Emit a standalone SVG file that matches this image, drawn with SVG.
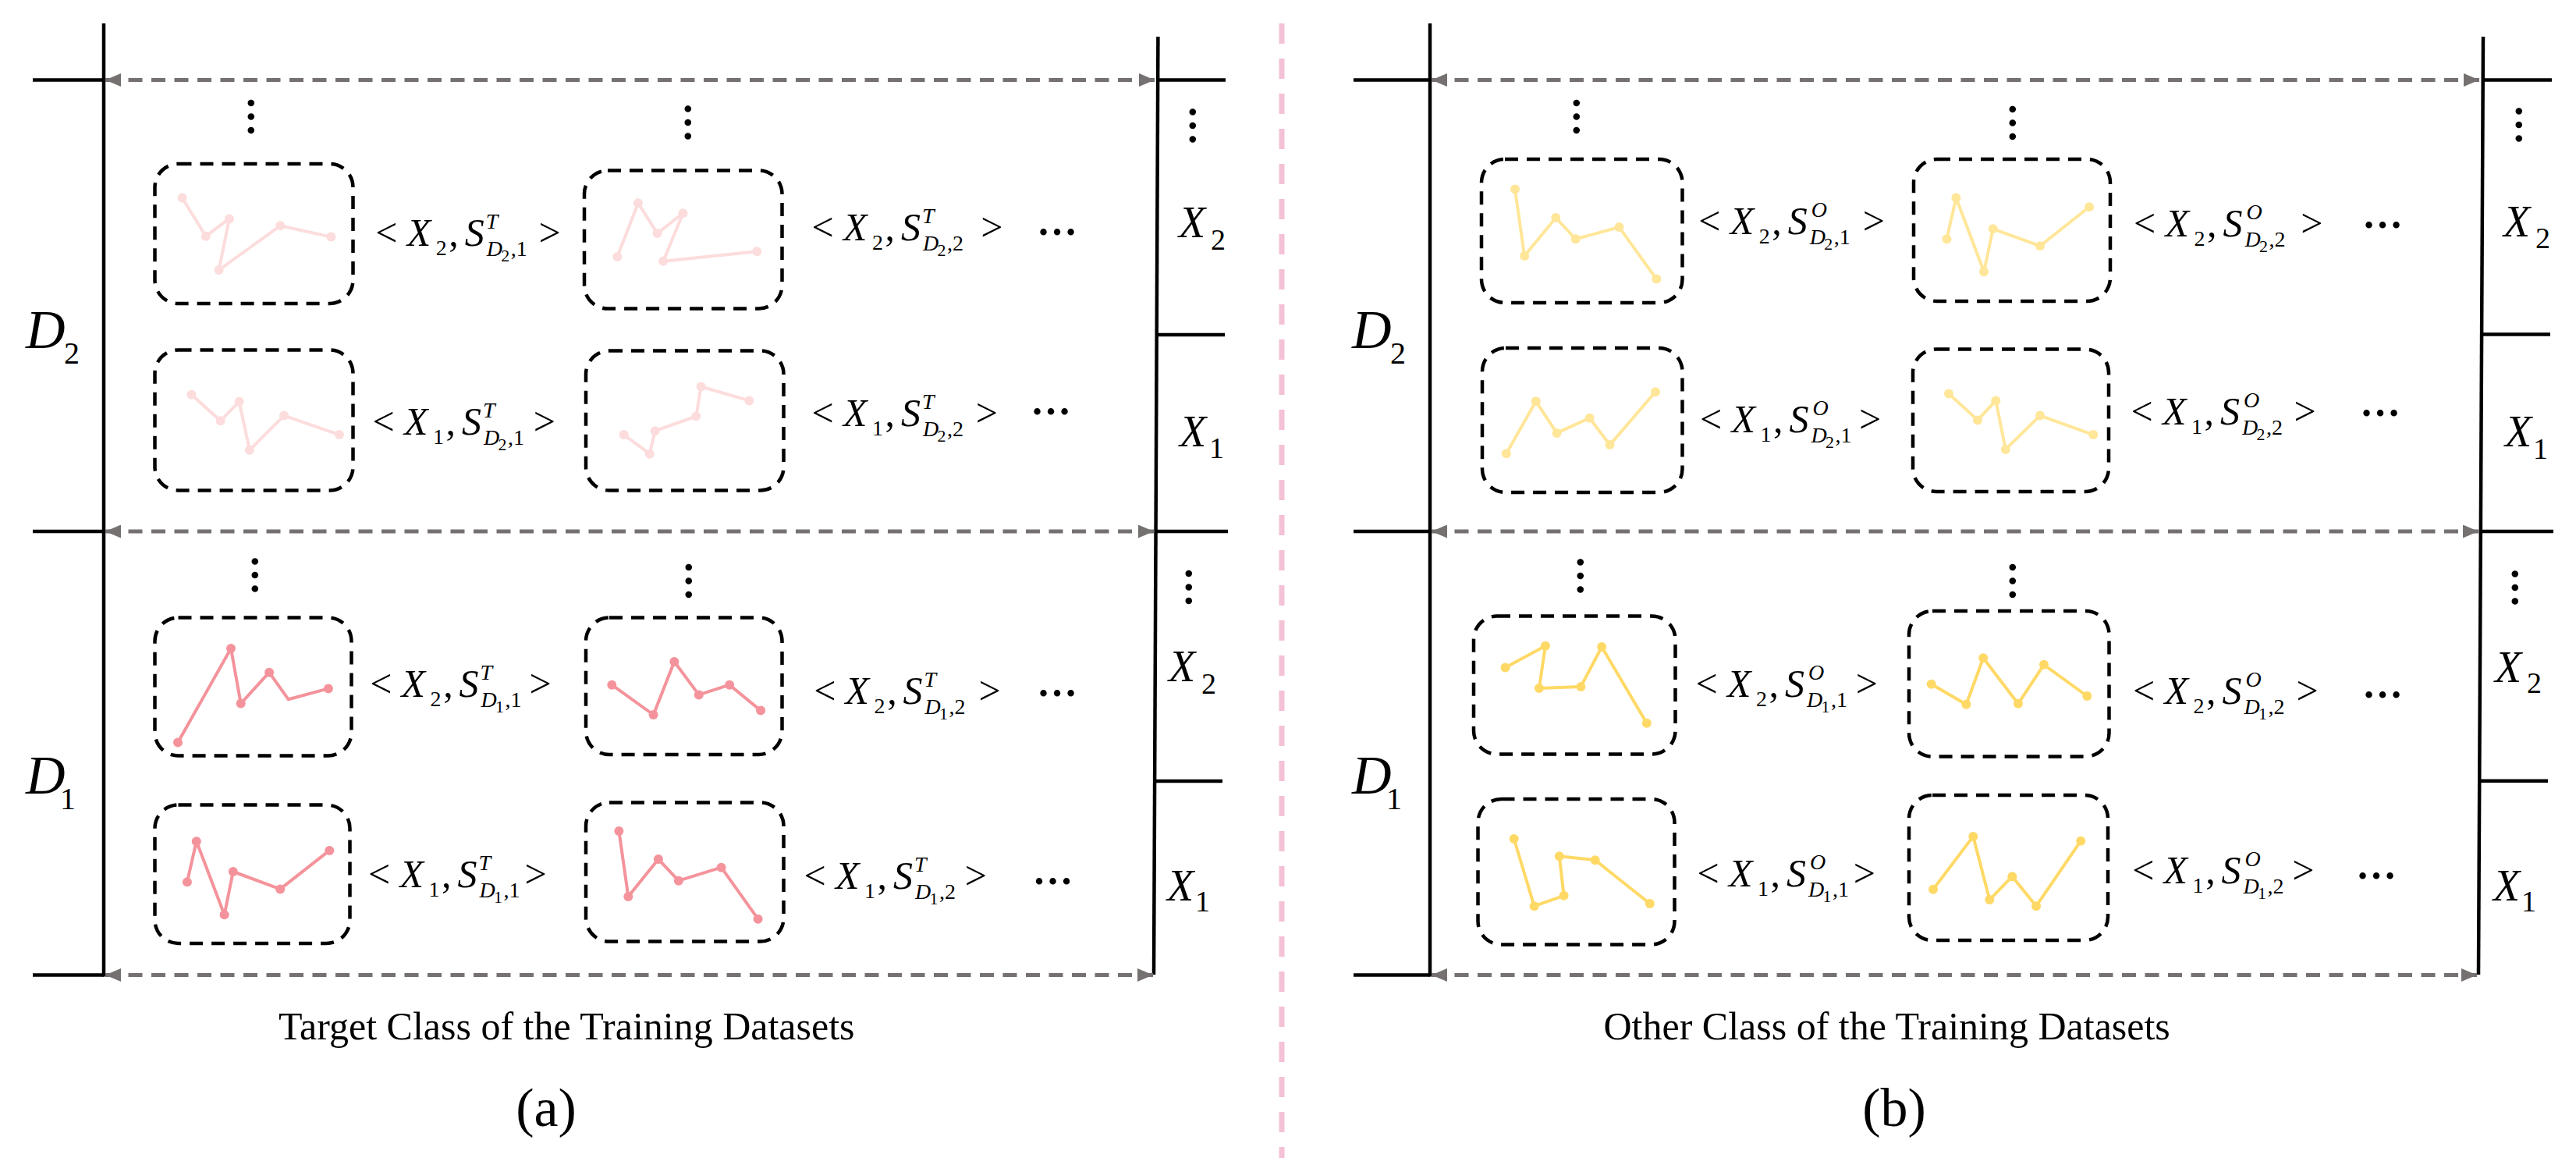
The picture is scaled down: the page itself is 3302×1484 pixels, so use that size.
<svg xmlns="http://www.w3.org/2000/svg" width="3302" height="1484" viewBox="0 0 3302 1484">
<style>
.bg{fill:#ffffff}
.ax{stroke:#000;stroke-width:4.5;fill:none;stroke-linecap:butt}
.div{stroke:#F4C1D6;stroke-width:7;stroke-dasharray:26 19;fill:none}
.arr{stroke:#767171;stroke-width:5;stroke-dasharray:18 11.5;fill:none}
.box{fill:none;stroke:#000;stroke-width:4.5;stroke-dasharray:17 11}
.pl{fill:none;stroke-width:4;stroke-linejoin:round}
.pa2{stroke:#FCDCDC}.pa2f{fill:#FCDCDC}
.pa1{stroke:#F4939B}.pa1f{fill:#F4939B}
.pb2{stroke:#FFE699}.pb2f{fill:#FFE699}
.pb1{stroke:#FFD966}.pb1f{fill:#FFD966}
text{font-family:'Liberation Serif','Times New Roman',serif;fill:#000}
.m{font-size:50px}
.i{font-style:italic}
.s{font-size:28px}
.ss{font-size:22px}
.rx{font-size:56px;font-style:italic}
.rs{font-size:38px}
.dl{font-size:70px;font-style:italic}
.ds{font-size:40px}
.cap{font-size:50px}
.pn{font-size:70px}
.el{font-size:52px;font-weight:bold;text-anchor:middle}
</style>
<defs>
<marker id="ah" viewBox="0 0 20 17" refX="20" refY="8.5" markerWidth="20" markerHeight="17" markerUnits="userSpaceOnUse" orient="auto-start-reverse">
<path d="M0,0 L20,8.5 L0,17 z" fill="#767171"/>
</marker>
</defs>
<rect class="bg" x="0" y="0" width="3302" height="1484"/>

<g id="divider"><line class="div" x1="1643" y1="30" x2="1643" y2="1484"/></g>

<g id="axes-a">
<line class="ax" x1="133" y1="30" x2="133" y2="1251.5"/>
<line class="ax" x1="42" y1="102.5" x2="133" y2="102.5"/>
<line class="ax" x1="42" y1="681" x2="133" y2="681"/>
<line class="ax" x1="42" y1="1249.5" x2="133" y2="1249.5"/>
<line class="ax" x1="1484.4" y1="47" x2="1479" y2="1249"/>
<line class="ax" x1="1484" y1="102.5" x2="1571" y2="102.5"/>
<line class="ax" x1="1482" y1="429" x2="1570" y2="429"/>
<line class="ax" x1="1481" y1="681" x2="1574" y2="681"/>
<line class="ax" x1="1480" y1="1001" x2="1567" y2="1001"/>
</g>
<g id="axes-b">
<line class="ax" x1="1833" y1="30" x2="1833" y2="1251.5"/>
<line class="ax" x1="1735" y1="102.5" x2="1833" y2="102.5"/>
<line class="ax" x1="1735" y1="681" x2="1833" y2="681"/>
<line class="ax" x1="1735" y1="1249.5" x2="1833" y2="1249.5"/>
<line class="ax" x1="3183" y1="47" x2="3177" y2="1249"/>
<line class="ax" x1="3183" y1="102.5" x2="3271" y2="102.5"/>
<line class="ax" x1="3181" y1="428.5" x2="3269" y2="428.5"/>
<line class="ax" x1="3180" y1="681" x2="3273" y2="681"/>
<line class="ax" x1="3178" y1="1000.7" x2="3266" y2="1000.7"/>
</g>

<g id="connectors">
<line class="arr" x1="135" y1="102.5" x2="1480" y2="102.5" marker-start="url(#ah)" marker-end="url(#ah)"/>
<line class="arr" x1="135" y1="681" x2="1479" y2="681" marker-start="url(#ah)" marker-end="url(#ah)"/>
<line class="arr" x1="135" y1="1249.5" x2="1478" y2="1249.5" marker-start="url(#ah)" marker-end="url(#ah)"/>
<line class="arr" x1="1835" y1="102.5" x2="3178" y2="102.5" marker-start="url(#ah)" marker-end="url(#ah)"/>
<line class="arr" x1="1835" y1="681" x2="3177" y2="681" marker-start="url(#ah)" marker-end="url(#ah)"/>
<line class="arr" x1="1835" y1="1249.5" x2="3175" y2="1249.5" marker-start="url(#ah)" marker-end="url(#ah)"/>
</g>

<!-- Left D labels -->
<g id="label-a-D2"><text class="dl" x="33" y="446">D</text><text class="ds" x="82" y="466">2</text></g>
<g id="label-a-D1"><text class="dl" x="33" y="1017">D</text><text class="ds" x="77" y="1037">1</text></g>
<g id="label-b-D2"><text class="dl" x="1733" y="446">D</text><text class="ds" x="1782" y="466">2</text></g>
<g id="label-b-D1"><text class="dl" x="1733" y="1017">D</text><text class="ds" x="1777" y="1037">1</text></g>

<!-- Right X labels -->
<g id="label-a-rX2-top"><text class="rx" x="1511" y="303.6">X</text><text class="rs" x="1552" y="319.5">2</text></g>
<g id="label-a-rX1-top"><text class="rx" x="1512" y="572">X</text><text class="rs" x="1550" y="587">1</text></g>
<g id="label-a-rX2-bot"><text class="rx" x="1498" y="873">X</text><text class="rs" x="1540" y="889">2</text></g>
<g id="label-a-rX1-bot"><text class="rx" x="1496" y="1154">X</text><text class="rs" x="1532" y="1168">1</text></g>
<g id="label-b-rX2-top"><text class="rx" x="3209" y="302.6">X</text><text class="rs" x="3250" y="318.4">2</text></g>
<g id="label-b-rX1-top"><text class="rx" x="3211" y="572">X</text><text class="rs" x="3247" y="588">1</text></g>
<g id="label-b-rX2-bot"><text class="rx" x="3198" y="874">X</text><text class="rs" x="3239" y="888">2</text></g>
<g id="label-b-rX1-bot"><text class="rx" x="3196" y="1153.7">X</text><text class="rs" x="3232" y="1168">1</text></g>

<!-- vertical ellipses -->
<g id="vdots">
<text class="el" transform="translate(321,149.5) rotate(90)" y="3">…</text>
<text class="el" transform="translate(881,157) rotate(90)" y="3">…</text>
<text class="el" transform="translate(326,737) rotate(90)" y="3">…</text>
<text class="el" transform="translate(882,744.5) rotate(90)" y="3">…</text>
<text class="el" transform="translate(1528,161) rotate(90)" y="3">…</text>
<text class="el" transform="translate(1523,752.5) rotate(90)" y="3">…</text>
<text class="el" transform="translate(2020,149.5) rotate(90)" y="3">…</text>
<text class="el" transform="translate(2579,157.5) rotate(90)" y="3">…</text>
<text class="el" transform="translate(2025,738) rotate(90)" y="3">…</text>
<text class="el" transform="translate(2579,744.5) rotate(90)" y="3">…</text>
<text class="el" transform="translate(3227.5,160) rotate(90)" y="3">…</text>
<text class="el" transform="translate(3222.5,753) rotate(90)" y="3">…</text>
</g>
<g id="hdots">
<text class="el" x="1355" y="301">…</text>
<text class="el" x="1347" y="531">…</text>
<text class="el" x="1355" y="892">…</text>
<text class="el" x="1349.5" y="1133">…</text>
<text class="el" x="3054" y="291.5">…</text>
<text class="el" x="3051" y="533">…</text>
<text class="el" x="3054" y="894">…</text>
<text class="el" x="3046" y="1126">…</text>
</g>

<!-- Panel (a) boxes -->
<g id="box-a-D2-X2-1"><rect class="box" x="198.5" y="210" width="254" height="179" rx="30"/>
<polyline class="pl pa2" points="233.6,253.6 263.8,302.7 293.9,280.4 280.6,346 359.2,289.3 424.4,303.6"/>
<g class="pa2f"><circle cx="233.6" cy="253.6" r="6"/><circle cx="263.8" cy="302.7" r="6"/><circle cx="293.9" cy="280.4" r="6"/><circle cx="280.6" cy="346" r="6"/><circle cx="359.2" cy="289.3" r="6"/><circle cx="424.4" cy="303.6" r="6"/></g></g>
<g id="box-a-D2-X2-2"><rect class="box" x="749" y="218.5" width="253.5" height="177" rx="30"/>
<polyline class="pl pa2" points="791.3,329 818,260.3 842.5,299.1 875.5,273.2 850.2,334.8 970.2,322.3"/>
<g class="pa2f"><circle cx="791.3" cy="329" r="6"/><circle cx="818" cy="260.3" r="6"/><circle cx="842.5" cy="299.1" r="6"/><circle cx="875.5" cy="273.2" r="6"/><circle cx="850.2" cy="334.8" r="6"/><circle cx="970.2" cy="322.3" r="6"/></g></g>
<g id="box-a-D2-X1-1"><rect class="box" x="198.5" y="448.5" width="254" height="180" rx="30"/>
<polyline class="pl pa2" points="245.5,505.8 282.7,539.3 306.6,514.7 319.9,576.8 364.1,532.6 434.9,557.1"/>
<g class="pa2f"><circle cx="245.5" cy="505.8" r="6"/><circle cx="282.7" cy="539.3" r="6"/><circle cx="306.6" cy="514.7" r="6"/><circle cx="319.9" cy="576.8" r="6"/><circle cx="364.1" cy="532.6" r="6"/><circle cx="434.9" cy="557.1" r="6"/></g></g>
<g id="box-a-D2-X1-2"><rect class="box" x="751" y="449.5" width="253.5" height="179" rx="30"/>
<polyline class="pl pa2" points="799.7,557.1 832.7,581.7 839.7,552.2 892.3,533.5 898.6,495.5 960.4,513.4"/>
<g class="pa2f"><circle cx="799.7" cy="557.1" r="6"/><circle cx="832.7" cy="581.7" r="6"/><circle cx="839.7" cy="552.2" r="6"/><circle cx="892.3" cy="533.5" r="6"/><circle cx="898.6" cy="495.5" r="6"/><circle cx="960.4" cy="513.4" r="6"/></g></g>
<g id="box-a-D1-X2-1"><rect class="box" x="198.5" y="791.5" width="252" height="177" rx="30"/>
<polyline class="pl pa1" points="228,951.6 296,830.9 308.7,901.6 345.1,861.7 369.7,896.3 420.9,882.4"/>
<g class="pa1f"><circle cx="228" cy="951.6" r="6"/><circle cx="296" cy="830.9" r="6"/><circle cx="308.7" cy="901.6" r="6"/><circle cx="345.1" cy="861.7" r="6"/><circle cx="420.9" cy="882.4" r="6"/></g></g>
<g id="box-a-D1-X2-2"><rect class="box" x="751" y="791.5" width="251.5" height="175.5" rx="30"/>
<polyline class="pl pa1" points="784.3,877.7 837.6,916 864.3,847.9 895.8,890.4 935.1,877.7 975.1,910.6"/>
<g class="pa1f"><circle cx="784.3" cy="877.7" r="6"/><circle cx="837.6" cy="916" r="6"/><circle cx="864.3" cy="847.9" r="6"/><circle cx="895.8" cy="890.4" r="6"/><circle cx="935.1" cy="877.7" r="6"/><circle cx="975.1" cy="910.6" r="6"/></g></g>
<g id="box-a-D1-X1-1"><rect class="box" x="198.5" y="1031.5" width="250" height="177.5" rx="30"/>
<polyline class="pl pa1" points="239.9,1130.3 251.8,1078.2 287.6,1172.3 298.8,1117 359.2,1139.4 422.3,1089.9"/>
<g class="pa1f"><circle cx="239.9" cy="1130.3" r="6"/><circle cx="251.8" cy="1078.2" r="6"/><circle cx="287.6" cy="1172.3" r="6"/><circle cx="298.8" cy="1117" r="6"/><circle cx="359.2" cy="1139.4" r="6"/><circle cx="422.3" cy="1089.9" r="6"/></g></g>
<g id="box-a-D1-X1-2"><rect class="box" x="751" y="1028.5" width="253.5" height="178" rx="30"/>
<polyline class="pl pa1" points="793.4,1064.9 805.3,1148.9 843.9,1101.1 869.9,1128.7 924.6,1111.7 971.6,1177.7"/>
<g class="pa1f"><circle cx="793.4" cy="1064.9" r="6"/><circle cx="805.3" cy="1148.9" r="6"/><circle cx="843.9" cy="1101.1" r="6"/><circle cx="869.9" cy="1128.7" r="6"/><circle cx="924.6" cy="1111.7" r="6"/><circle cx="971.6" cy="1177.7" r="6"/></g></g>

<!-- Panel (b) boxes -->
<g id="box-b-D2-X2-1"><rect class="box" x="1899" y="204" width="257.5" height="184" rx="30"/>
<polyline class="pl pb2" points="1942,242.4 1954.1,328.1 1994.3,279 2019.7,306.3 2075.5,291.1 2123.3,357.6"/>
<g class="pb2f"><circle cx="1942" cy="242.4" r="6"/><circle cx="1954.1" cy="328.1" r="6"/><circle cx="1994.3" cy="279" r="6"/><circle cx="2019.7" cy="306.3" r="6"/><circle cx="2075.5" cy="291.1" r="6"/><circle cx="2123.3" cy="357.6" r="6"/></g></g>
<g id="box-b-D2-X2-2"><rect class="box" x="2453" y="204" width="252" height="182" rx="30"/>
<polyline class="pl pb2" points="2495.4,306.3 2507.4,253.6 2543.1,348.2 2554.7,293.3 2615,315.2 2678,265.2"/>
<g class="pb2f"><circle cx="2495.4" cy="306.3" r="6"/><circle cx="2507.4" cy="253.6" r="6"/><circle cx="2543.1" cy="348.2" r="6"/><circle cx="2554.7" cy="293.3" r="6"/><circle cx="2615" cy="315.2" r="6"/><circle cx="2678" cy="265.2" r="6"/></g></g>
<g id="box-b-D2-X1-1"><rect class="box" x="1900" y="446" width="256.5" height="185" rx="30"/>
<polyline class="pl pb2" points="1930.9,581.3 1968.8,514.3 1995.6,554.9 2037.6,535.7 2063.5,570.1 2122,502.2"/>
<g class="pb2f"><circle cx="1930.9" cy="581.3" r="6"/><circle cx="1968.8" cy="514.3" r="6"/><circle cx="1995.6" cy="554.9" r="6"/><circle cx="2037.6" cy="535.7" r="6"/><circle cx="2063.5" cy="570.1" r="6"/><circle cx="2122" cy="502.2" r="6"/></g></g>
<g id="box-b-D2-X1-2"><rect class="box" x="2452" y="447.5" width="251" height="182.5" rx="30"/>
<polyline class="pl pb2" points="2498,504.5 2535,538.4 2558.3,513.4 2570.8,575.9 2615,532.6 2683.3,557.1"/>
<g class="pb2f"><circle cx="2498" cy="504.5" r="6"/><circle cx="2535" cy="538.4" r="6"/><circle cx="2558.3" cy="513.4" r="6"/><circle cx="2570.8" cy="575.9" r="6"/><circle cx="2615" cy="532.6" r="6"/><circle cx="2683.3" cy="557.1" r="6"/></g></g>
<g id="box-b-D1-X2-1"><rect class="box" x="1889" y="789.5" width="258.5" height="177" rx="30"/>
<polyline class="pl pb1" points="1929.6,855.4 1980.9,827.7 1972.9,882.1 2026.4,879.9 2053.2,829 2110.8,926.8"/>
<g class="pb1f"><circle cx="1929.6" cy="855.4" r="6"/><circle cx="1980.9" cy="827.7" r="6"/><circle cx="1972.9" cy="882.1" r="6"/><circle cx="2026.4" cy="879.9" r="6"/><circle cx="2053.2" cy="829" r="6"/><circle cx="2110.8" cy="926.8" r="6"/></g></g>
<g id="box-b-D1-X2-2"><rect class="box" x="2447" y="783" width="256.5" height="186.5" rx="30"/>
<polyline class="pl pb1" points="2475.7,876.8 2520.4,902.7 2542.2,843.3 2586.9,901.8 2619.9,851.8 2675.3,892"/>
<g class="pb1f"><circle cx="2475.7" cy="876.8" r="6"/><circle cx="2520.4" cy="902.7" r="6"/><circle cx="2542.2" cy="843.3" r="6"/><circle cx="2586.9" cy="901.8" r="6"/><circle cx="2619.9" cy="851.8" r="6"/><circle cx="2675.3" cy="892" r="6"/></g></g>
<g id="box-b-D1-X1-1"><rect class="box" x="1894.5" y="1024" width="252" height="186.5" rx="30"/>
<polyline class="pl pb1" points="1940.7,1075 1966.6,1161.2 2004.6,1147.8 1998.8,1097.3 2044.7,1102.2 2114.8,1158"/>
<g class="pb1f"><circle cx="1940.7" cy="1075" r="6"/><circle cx="1966.6" cy="1161.2" r="6"/><circle cx="2004.6" cy="1147.8" r="6"/><circle cx="1998.8" cy="1097.3" r="6"/><circle cx="2044.7" cy="1102.2" r="6"/><circle cx="2114.8" cy="1158" r="6"/></g></g>
<g id="box-b-D1-X1-2"><rect class="box" x="2447" y="1019" width="255" height="186" rx="30"/>
<polyline class="pl pb1" points="2478,1139.7 2529.3,1071.9 2550.3,1153.1 2579.3,1123.2 2610.1,1161.2 2667.2,1077.7"/>
<g class="pb1f"><circle cx="2478" cy="1139.7" r="6"/><circle cx="2529.3" cy="1071.9" r="6"/><circle cx="2550.3" cy="1153.1" r="6"/><circle cx="2579.3" cy="1123.2" r="6"/><circle cx="2610.1" cy="1161.2" r="6"/><circle cx="2667.2" cy="1077.7" r="6"/></g></g>

<!-- Pair labels panel (a) -->
<g id="lab-a-D2-X2-1" transform="translate(482.7,315)"><text class="m" x="-1.4" y="0">&lt;</text><text class="m i" x="39" y="0">X</text><text class="s" x="76" y="12">2</text><text class="m" x="92.6" y="0">,</text><text class="m i" x="113" y="0">S</text><text class="s i" x="140" y="-22">T</text><text class="s i" x="141" y="13">D</text><text class="ss" x="159.5" y="20">2</text><text class="s" x="172" y="13">,1</text><text class="m" x="207.7" y="0">&gt;</text></g>
<g id="lab-a-D2-X2-2" transform="translate(1042,308)"><text class="m" x="-1.4" y="0">&lt;</text><text class="m i" x="39" y="0">X</text><text class="s" x="76" y="12">2</text><text class="m" x="92.6" y="0">,</text><text class="m i" x="113" y="0">S</text><text class="s i" x="140" y="-22">T</text><text class="s i" x="141" y="13">D</text><text class="ss" x="159.5" y="20">2</text><text class="s" x="172" y="13">,2</text><text class="m" x="215.2" y="0">&gt;</text></g>
<g id="lab-a-D2-X1-1" transform="translate(479,557)"><text class="m" x="-1.4" y="0">&lt;</text><text class="m i" x="39" y="0">X</text><text class="s" x="76" y="12">1</text><text class="m" x="92.6" y="0">,</text><text class="m i" x="113" y="0">S</text><text class="s i" x="140" y="-22">T</text><text class="s i" x="141" y="13">D</text><text class="ss" x="159.5" y="20">2</text><text class="s" x="172" y="13">,1</text><text class="m" x="204.7" y="0">&gt;</text></g>
<g id="lab-a-D2-X1-2" transform="translate(1042,545.5)"><text class="m" x="-1.4" y="0">&lt;</text><text class="m i" x="39" y="0">X</text><text class="s" x="76" y="12">1</text><text class="m" x="92.6" y="0">,</text><text class="m i" x="113" y="0">S</text><text class="s i" x="140" y="-22">T</text><text class="s i" x="141" y="13">D</text><text class="ss" x="159.5" y="20">2</text><text class="s" x="172" y="13">,2</text><text class="m" x="208.7" y="0">&gt;</text></g>
<g id="lab-a-D1-X2-1" transform="translate(475.6,893)"><text class="m" x="-1.4" y="0">&lt;</text><text class="m i" x="39" y="0">X</text><text class="s" x="76" y="12">2</text><text class="m" x="92.6" y="0">,</text><text class="m i" x="113" y="0">S</text><text class="s i" x="140" y="-22">T</text><text class="s i" x="141" y="13">D</text><text class="ss" x="159.5" y="20">1</text><text class="s" x="172" y="13">,1</text><text class="m" x="203" y="0">&gt;</text></g>
<g id="lab-a-D1-X2-2" transform="translate(1044.6,902)"><text class="m" x="-1.4" y="0">&lt;</text><text class="m i" x="39" y="0">X</text><text class="s" x="76" y="12">2</text><text class="m" x="92.6" y="0">,</text><text class="m i" x="113" y="0">S</text><text class="s i" x="140" y="-22">T</text><text class="s i" x="141" y="13">D</text><text class="ss" x="159.5" y="20">1</text><text class="s" x="172" y="13">,2</text><text class="m" x="210" y="0">&gt;</text></g>
<g id="lab-a-D1-X1-1" transform="translate(473.5,1136.7)"><text class="m" x="-1.4" y="0">&lt;</text><text class="m i" x="39" y="0">X</text><text class="s" x="76" y="12">1</text><text class="m" x="92.6" y="0">,</text><text class="m i" x="113" y="0">S</text><text class="s i" x="140" y="-22">T</text><text class="s i" x="141" y="13">D</text><text class="ss" x="159.5" y="20">1</text><text class="s" x="172" y="13">,1</text><text class="m" x="199" y="0">&gt;</text></g>
<g id="lab-a-D1-X1-2" transform="translate(1032,1139)"><text class="m" x="-1.4" y="0">&lt;</text><text class="m i" x="39" y="0">X</text><text class="s" x="76" y="12">1</text><text class="m" x="92.6" y="0">,</text><text class="m i" x="113" y="0">S</text><text class="s i" x="140" y="-22">T</text><text class="s i" x="141" y="13">D</text><text class="ss" x="159.5" y="20">1</text><text class="s" x="172" y="13">,2</text><text class="m" x="204.7" y="0">&gt;</text></g>

<!-- Pair labels panel (b) -->
<g id="lab-b-D2-X2-1" transform="translate(2178.7,300)"><text class="m" x="-1.4" y="0">&lt;</text><text class="m i" x="39" y="0">X</text><text class="s" x="76" y="12">2</text><text class="m" x="92.6" y="0">,</text><text class="m i" x="113" y="0">S</text><text class="s i" x="143" y="-22">O</text><text class="s i" x="141" y="13">D</text><text class="ss" x="159.5" y="20">2</text><text class="s" x="172" y="13">,1</text><text class="m" x="209" y="0">&gt;</text></g>
<g id="lab-b-D2-X2-2" transform="translate(2736.5,302.7)"><text class="m" x="-1.4" y="0">&lt;</text><text class="m i" x="39" y="0">X</text><text class="s" x="76" y="12">2</text><text class="m" x="92.6" y="0">,</text><text class="m i" x="113" y="0">S</text><text class="s i" x="143" y="-22">O</text><text class="s i" x="141" y="13">D</text><text class="ss" x="159.5" y="20">2</text><text class="s" x="172" y="13">,2</text><text class="m" x="212.7" y="0">&gt;</text></g>
<g id="lab-b-D2-X1-1" transform="translate(2180.4,553.6)"><text class="m" x="-1.4" y="0">&lt;</text><text class="m i" x="39" y="0">X</text><text class="s" x="76" y="12">1</text><text class="m" x="92.6" y="0">,</text><text class="m i" x="113" y="0">S</text><text class="s i" x="143" y="-22">O</text><text class="s i" x="141" y="13">D</text><text class="ss" x="159.5" y="20">2</text><text class="s" x="172" y="13">,1</text><text class="m" x="202.7" y="0">&gt;</text></g>
<g id="lab-b-D2-X1-2" transform="translate(2733,543.8)"><text class="m" x="-1.4" y="0">&lt;</text><text class="m i" x="39" y="0">X</text><text class="s" x="76" y="12">1</text><text class="m" x="92.6" y="0">,</text><text class="m i" x="113" y="0">S</text><text class="s i" x="143" y="-22">O</text><text class="s i" x="141" y="13">D</text><text class="ss" x="159.5" y="20">2</text><text class="s" x="172" y="13">,2</text><text class="m" x="207.5" y="0">&gt;</text></g>
<g id="lab-b-D1-X2-1" transform="translate(2175,893.3)"><text class="m" x="-1.4" y="0">&lt;</text><text class="m i" x="39" y="0">X</text><text class="s" x="76" y="12">2</text><text class="m" x="92.6" y="0">,</text><text class="m i" x="113" y="0">S</text><text class="s i" x="143" y="-22">O</text><text class="s i" x="141" y="13">D</text><text class="ss" x="159.5" y="20">1</text><text class="s" x="172" y="13">,1</text><text class="m" x="203.7" y="0">&gt;</text></g>
<g id="lab-b-D1-X2-2" transform="translate(2735.5,902.2)"><text class="m" x="-1.4" y="0">&lt;</text><text class="m i" x="39" y="0">X</text><text class="s" x="76" y="12">2</text><text class="m" x="92.6" y="0">,</text><text class="m i" x="113" y="0">S</text><text class="s i" x="143" y="-22">O</text><text class="s i" x="141" y="13">D</text><text class="ss" x="159.5" y="20">1</text><text class="s" x="172" y="13">,2</text><text class="m" x="208" y="0">&gt;</text></g>
<g id="lab-b-D1-X1-1" transform="translate(2177,1135.7)"><text class="m" x="-1.4" y="0">&lt;</text><text class="m i" x="39" y="0">X</text><text class="s" x="76" y="12">1</text><text class="m" x="92.6" y="0">,</text><text class="m i" x="113" y="0">S</text><text class="s i" x="143" y="-22">O</text><text class="s i" x="141" y="13">D</text><text class="ss" x="159.5" y="20">1</text><text class="s" x="172" y="13">,1</text><text class="m" x="198.7" y="0">&gt;</text></g>
<g id="lab-b-D1-X1-2" transform="translate(2734.6,1132)"><text class="m" x="-1.4" y="0">&lt;</text><text class="m i" x="39" y="0">X</text><text class="s" x="76" y="12">1</text><text class="m" x="92.6" y="0">,</text><text class="m i" x="113" y="0">S</text><text class="s i" x="143" y="-22">O</text><text class="s i" x="141" y="13">D</text><text class="ss" x="159.5" y="20">1</text><text class="s" x="172" y="13">,2</text><text class="m" x="203.7" y="0">&gt;</text></g>

<!-- Captions -->
<g id="caption-a"><text class="cap" x="357" y="1332">Target Class of the Training Datasets</text><text class="pn" x="700" y="1443" text-anchor="middle">(a)</text></g>
<g id="caption-b"><text class="cap" x="2055.5" y="1332">Other Class of the Training Datasets</text><text class="pn" x="2428" y="1443" text-anchor="middle">(b)</text></g>
</svg>
